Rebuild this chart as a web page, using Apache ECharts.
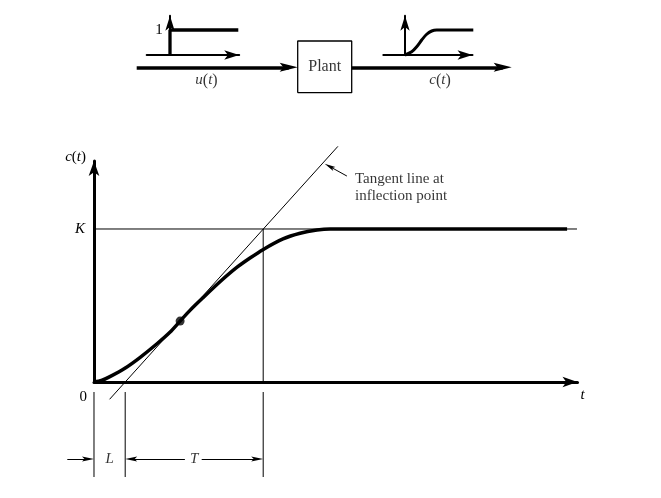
<!DOCTYPE html>
<html><head><meta charset="utf-8">
<script src="https://cdn.jsdelivr.net/npm/echarts@6/dist/echarts.min.js"></script>
<style>html,body{margin:0;padding:0;background:#fff}#c{width:661px;height:498px}</style>
</head><body><div id="c"></div>
<script>
const SERIF = '"Liberation Serif","Times New Roman",serif';

// ---------- main step response (t in units of L-scale, c normalised so K = 1)
const curveT = [0, 0.25, 0.53, 1.03, 1.53, 2.1, 2.53, 2.87, 3.2, 3.63, 4.2, 4.77, 5.2, 5.63, 6.3, 6.87, 7.43, 7.87, 15.77];
const curveC = [0, 0.01, 0.035, 0.09, 0.16, 0.25, 0.325, 0.398, 0.468, 0.55, 0.655, 0.75, 0.81, 0.865, 0.935, 0.972, 0.993, 1.0, 1.0];
const L = 1.04;
const LT = 5.64;               // L + T
const K = 1;
const tangentT = [0.52, 8.13];
const tangentC = [-0.113, 1.54];
const inflT = [2.87];
const inflC = [0.398];
const kLineT = [0, 16.1];
const noteArrowT = [8.43, 7.85];
const noteArrowC = [1.346, 1.409];
const noteT = [8.7];
const noteC = [1.271];
const noteText = ['Tangent line at\ninflection point'];

// ---------- dimension row under the axis
const dimT = [0, L, LT];
const dimArrowY = 0.212;
const dimArrowFrom = [-0.89, 3.03, 3.59];
const dimArrowTo = [-0.2, 1.24, 5.44];
const dimTextT = [0.52, 3.34];
const dimText = ['L', 'T'];

// ---------- block diagram
const boxX = [16.77, 22.17];
const boxY = [0.23, 5.4];
const flowY = 2.77;
const inArrowX = [0.67, 15.87];
const outArrowX = [22.17, 37.27];
const blockTextX = [19.47, 7.65, 31.0];
const blockTextY = [2.81, 1.45, 1.45];
const blockText = ['Plant', '{i|u}({i|t})', '{i|c}({i|t})'];

// ---------- insets
const stepT = [0, 0, 6.83];
const stepV = [0, 1, 1];
const sT = [0, 0.67, 1.17, 1.67, 2.17, 2.67, 3.17, 6.83];
const sV = [0, 0.13, 0.33, 0.6, 0.83, 0.96, 1.0, 1.0];

const zip = (a, b) => a.map((v, i) => [v, b[i]]);
const BLACK = '#000';
// narrow arrow heads (aspect kept inside the square symbol box)
const HEAD_THIN = 'path://M5,0 L10,24 L5,19 L0,24 Z';
const HEAD_WIDE = 'path://M5,0 L10,20 L5,16 L0,20 Z';

function line(i, data, width, extra) {
  return Object.assign({
    type: 'line', xAxisIndex: i, yAxisIndex: i, data: data, symbol: 'none',
    lineStyle: { color: BLACK, width: width }, itemStyle: { color: BLACK },
    clip: false, silent: true, animation: false
  }, extra || {});
}
function arrows(i, segs, width, head, size) {
  return {
    type: 'line', xAxisIndex: i, yAxisIndex: i, data: [], silent: true, animation: false,
    markLine: {
      silent: true, animation: false, symbol: ['none', head], symbolSize: size, symbolKeepAspect: true,
      label: { show: false }, emphasis: { disabled: true },
      lineStyle: { color: BLACK, width: width, type: 'solid', opacity: 1 },
      itemStyle: { color: BLACK },
      data: segs.map(s => [{ coord: s[0] }, { coord: s[1] }])
    }
  };
}
function texts(i, xs, ys, strs, lab) {
  return {
    type: 'scatter', xAxisIndex: i, yAxisIndex: i, symbolSize: 0, silent: true, animation: false,
    clip: false,
    data: xs.map((x, k) => ({ value: [x, ys[k]], label: { formatter: strs[k] } })),
    label: Object.assign({
      show: true, position: 'inside', color: BLACK, fontFamily: SERIF, fontSize: 15,
      align: 'center', verticalAlign: 'middle',
      rich: { i: { fontStyle: 'italic', fontFamily: SERIF, fontSize: 15, color: BLACK } }
    }, lab || {})
  };
}
const noAxis = { show: false };
function insetAxis(i, min, max, isY, labelFn) {
  const a = {
    gridIndex: i, type: 'value', min: min, max: max,
    axisLine: { show: true, onZero: true, symbol: ['none', 'arrow'], symbolSize: [7, 15], lineStyle: { color: BLACK, width: 2 } },
    axisTick: { show: false }, splitLine: { show: false },
    axisLabel: { show: !!labelFn, formatter: labelFn || '', color: BLACK, fontFamily: SERIF, fontSize: 15, margin: -16 }
  };
  if (isY) a.interval = 1;
  return a;
}

const option = {
  animation: false,
  backgroundColor: '#fff',
  textStyle: { fontFamily: SERIF },
  grid: [
    { left: 94, right: 83.5, top: 161, bottom: 116 },
    { left: 60, right: 83.5, top: 392, bottom: 21 },
    { left: 130, top: 35, width: 390, height: 60 },
    { left: 146.7, top: 15.8, width: 92.5, height: 39.2 },
    { left: 383.3, top: 15.8, width: 89.2, height: 39.2 }
  ],
  xAxis: [
    {
      gridIndex: 0, type: 'value', min: 0, max: 16.117,
      axisLine: { show: true, symbol: ['none', 'arrow'], symbolSize: [8, 15], lineStyle: { color: BLACK, width: 3 } },
      axisTick: { show: false }, splitLine: { show: false },
      axisLabel: { formatter: v => (v === 0 ? '0' : ''), color: BLACK, fontFamily: SERIF, fontSize: 15, align: 'right', padding: [0, 7, 0, 0], margin: 8 },
      name: 't', nameLocation: 'end', nameGap: 3,
      nameTextStyle: { color: BLACK, fontFamily: SERIF, fontSize: 15, fontStyle: 'italic', align: 'left', verticalAlign: 'top', padding: [6, 0, 0, 0] }
    },
    Object.assign({ gridIndex: 1, type: 'value', min: -1.1333, max: 16.117 }, noAxis),
    Object.assign({ gridIndex: 2, type: 'value', min: 0, max: 39 }, noAxis),
    insetAxis(3, -2.33, 6.92, false),
    insetAxis(4, -2.17, 6.75, false)
  ],
  yAxis: [
    {
      gridIndex: 0, type: 'value', min: 0, max: 1.4444, interval: 1,
      axisLine: { show: true, onZero: true, symbol: ['none', 'arrow'], symbolSize: [8, 15], lineStyle: { color: BLACK, width: 3 } },
      axisTick: { show: false }, splitLine: { show: false },
      axisLabel: { formatter: v => (v === K ? 'K' : ''), color: BLACK, fontFamily: SERIF, fontSize: 15, fontStyle: 'italic', margin: 9 },
      name: '{i|c}({i|t})', nameLocation: 'end', nameGap: 4,
      nameTextStyle: {
        color: BLACK, fontFamily: SERIF, fontSize: 15, align: 'right', verticalAlign: 'middle', padding: [0, 8, 0, 0],
        rich: { i: { fontStyle: 'italic', fontFamily: SERIF, fontSize: 15, color: BLACK } }
      }
    },
    Object.assign({ gridIndex: 1, type: 'value', min: 0, max: 1 }, noAxis),
    Object.assign({ gridIndex: 2, type: 'value', min: 0, max: 6 }, noAxis),
    insetAxis(3, 0, 1.568, true, v => (v === 1 ? '1' : '')),
    insetAxis(4, 0, 1.568, true)
  ],
  series: [
    // main grid
    line(0, zip(kLineT, [K, K]), 1),
    line(0, [[LT, K], [LT, 0]], 1),
    line(0, zip(tangentT, tangentC), 1),
    line(0, zip(curveT, curveC), 3.5, { smooth: 0.25 }),
    { type: 'scatter', xAxisIndex: 0, yAxisIndex: 0, data: zip(inflT, inflC), symbol: 'circle', symbolSize: 9, itemStyle: { color: BLACK }, silent: true, animation: false, z: 5 },
    arrows(0, [[[noteArrowT[0], noteArrowC[0]], [noteArrowT[1], noteArrowC[1]]]], 1, HEAD_THIN, 11),
    texts(0, noteT, noteC, noteText, { align: 'left', lineHeight: 17 }),
    // dimension row
    ...dimT.map(t => line(1, [[t, 0], [t, 1]], 1)),
    arrows(1, dimArrowFrom.map((f, k) => [[f, dimArrowY], [dimArrowTo[k], dimArrowY]]), 1, HEAD_THIN, 12),
    texts(1, dimTextT, [dimArrowY, dimArrowY], dimText, { fontStyle: 'italic' }),
    // block diagram
    line(2, [[boxX[0], boxY[0]], [boxX[1], boxY[0]], [boxX[1], boxY[1]], [boxX[0], boxY[1]], [boxX[0], boxY[0]]], 1.3),
    arrows(2, [[[inArrowX[0], flowY], [inArrowX[1], flowY]], [[outArrowX[0], flowY], [outArrowX[1], flowY]]], 3.5, HEAD_WIDE, 18),
    texts(2, blockTextX, blockTextY, blockText, { fontSize: 16 }),
    // insets
    line(3, zip(stepT, stepV), 3.3),
    line(4, zip(sT, sV), 3, { smooth: 0.3 })
  ]
};

const chart = echarts.init(document.getElementById('c'), null, { renderer: 'canvas' });
chart.setOption(option);
</script>
</body></html>
